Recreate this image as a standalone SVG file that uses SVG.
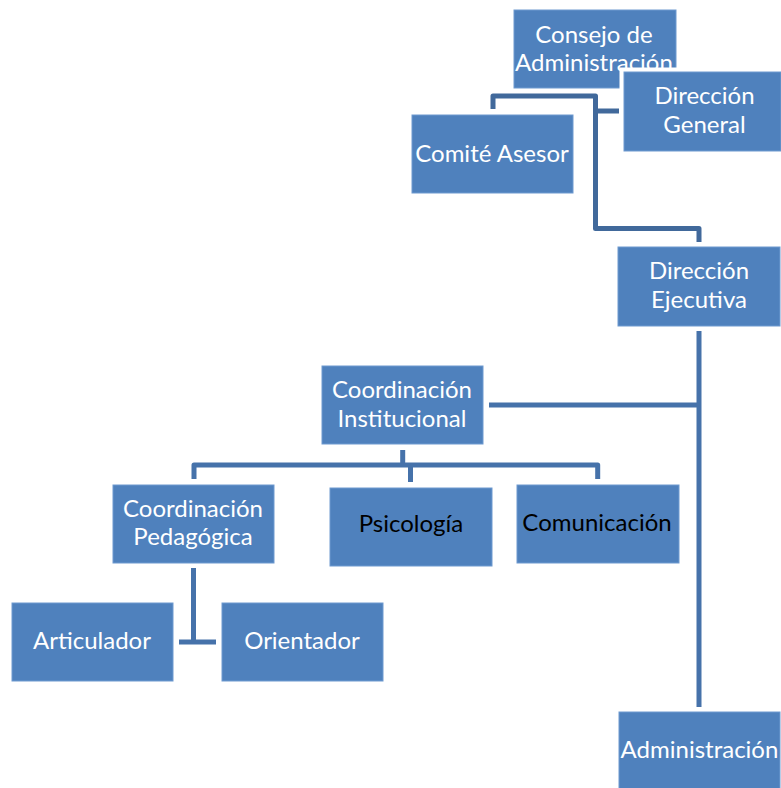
<svg xmlns="http://www.w3.org/2000/svg" width="781" height="788" viewBox="0 0 781 788">
<style>
.box{fill:#4F81BD;stroke:#6E9AD0;stroke-width:1}
.t{font-family:"Lato","Liberation Sans",sans-serif;font-size:24px;fill:#FFFFFF;text-anchor:middle}
.d{fill:#000000}
.ln{fill:none;stroke:#4672AA;stroke-width:5;stroke-linejoin:round}
.lt{stroke:#41699B}
</style>
<rect width="781" height="788" fill="#FFFFFF"/>
<g id="connectors">
<path class="ln lt" d="M493,109 V96 H595.5 V228.5 H699 V242"/>
<path class="ln lt" d="M595.5,111 H619"/>
<path class="ln" d="M699,331 V707"/>
<path class="ln" d="M489,405 H699"/>
<path class="ln" d="M402.7,450 V465"/>
<path class="ln" d="M194,479 V465 H597.7 V479"/>
<path class="ln" d="M410.5,465 V482"/>
<path class="ln" d="M193.5,568 V642"/>
<path class="ln" d="M179,642 H216"/>
</g>
<g id="consejo">
<rect class="box" x="514" y="10" width="162" height="78"/>
<text class="t" x="594" y="43">Consejo de</text>
<text class="t" x="594" y="71">Administración</text>
</g>
<g id="direccion-general">
<rect x="619.5" y="67.5" width="170" height="88" fill="#FFFFFF"/>
<rect class="box" x="624" y="72" width="157" height="79"/>
<text class="t" x="704.5" y="104">Dirección</text>
<text class="t" x="704.5" y="133">General</text>
</g>
<g id="comite-asesor">
<rect class="box" x="412" y="115" width="161" height="78"/>
<text class="t" x="492" y="162">Comité Asesor</text>
</g>
<g id="direccion-ejecutiva">
<rect class="box" x="618" y="247" width="162" height="79"/>
<text class="t" x="699" y="279">Dirección</text>
<text class="t" x="699" y="308">Ejecutiva</text>
</g>
<g id="coordinacion-institucional">
<rect class="box" x="322" y="366" width="161" height="78"/>
<text class="t" x="402" y="398">Coordinación</text>
<text class="t" x="402" y="427">Institucional</text>
</g>
<g id="coordinacion-pedagogica">
<rect class="box" x="113" y="485" width="161" height="78"/>
<text class="t" x="193" y="517">Coordinación</text>
<text class="t" x="193" y="545">Pedagógica</text>
</g>
<g id="psicologia">
<rect class="box" x="330" y="488" width="162" height="78"/>
<text class="t d" x="411" y="532">Psicología</text>
</g>
<g id="comunicacion">
<rect class="box" x="517" y="485" width="162" height="78"/>
<text class="t d" x="597" y="531">Comunicación</text>
</g>
<g id="articulador">
<rect class="box" x="12" y="603" width="161" height="78"/>
<text class="t" x="92" y="649">Articulador</text>
</g>
<g id="orientador">
<rect class="box" x="222" y="603" width="161" height="78"/>
<text class="t" x="302" y="649">Orientador</text>
</g>
<g id="administracion">
<rect class="box" x="619" y="712" width="161" height="78"/>
<text class="t" x="699.5" y="758">Administración</text>
</g>
</svg>
